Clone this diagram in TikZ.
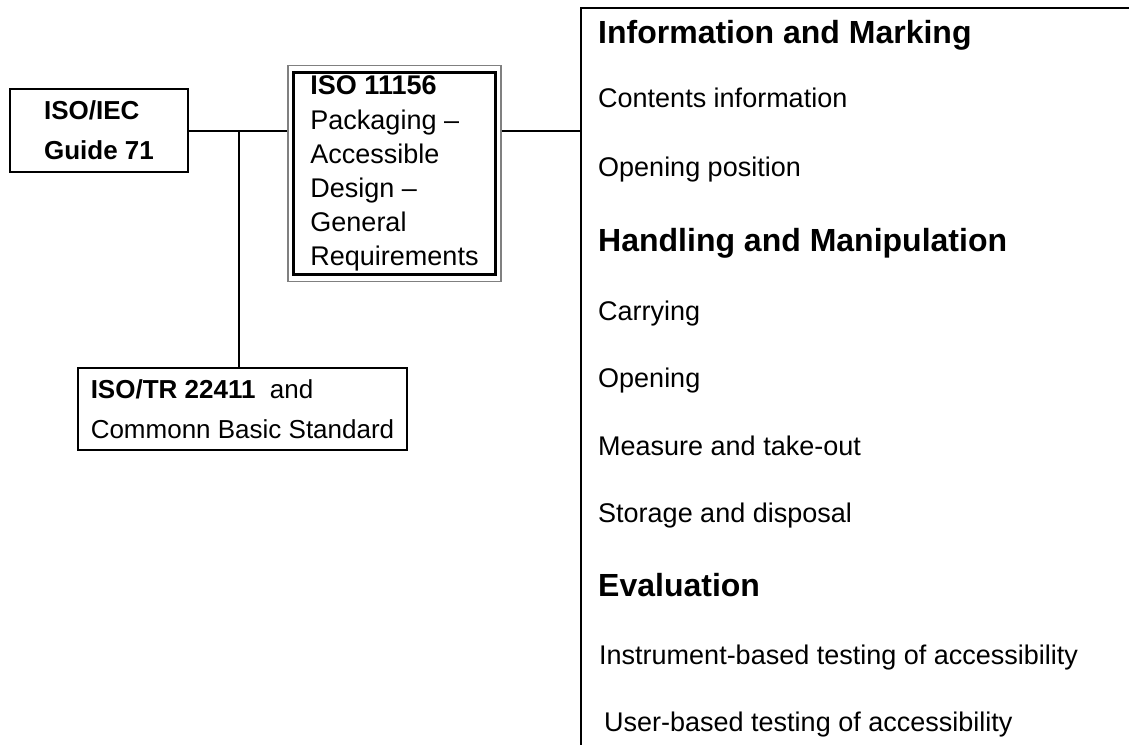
\documentclass[tikz,border=0pt]{standalone}
\usepackage{fontspec}
\setmainfont{Liberation Sans}
\usetikzlibrary{positioning,fit}

\begin{document}
\begin{tikzpicture}[x=1pt,y=-1pt]
        \tikzstyle{stdbox} = [rectangle, draw=black, line width=2pt, align=left, anchor=north west, inner sep=0pt, font=\fontsize{26}{40}\selectfont]
        \tikzstyle{link} = [line width=2pt]
        \tikzstyle{heading} = [anchor=base west, inner sep=0pt, font=\bfseries\fontsize{32}{38}\selectfont]
        \tikzstyle{listitem} = [anchor=base west, inner sep=0pt, font=\fontsize{27}{32}\selectfont]
        \useasboundingbox (0,0) rectangle (1129,745);

        \node (guide) [stdbox, minimum width=178pt, minimum height=83pt] at (9,88) {\textbf{ISO/IEC}\\\textbf{Guide 71}};
        \node (iso) [stdbox, line width=3pt, minimum width=202pt, minimum height=202pt, text depth=5pt, font=\fontsize{27}{34.2}\selectfont] at (292,71) {\textbf{ISO 11156}\\Packaging --\\Accessible\\Design --\\General\\Requirements};
        \node (isoframe) [fit=(iso), draw=gray, line width=1.2pt, inner xsep=4pt, inner ysep=5.5pt] {};
        \node (tr) [stdbox, minimum width=329pt, minimum height=82pt] at (77,367) {\textbf{ISO/TR 22411 } and\\Commonn Basic Standard};

        \coordinate (panel) at (581,8);
        \coordinate (split) at ([xshift=50pt]guide.east);

        \node (info) [heading] at (598,43.5) {Information and Marking};
        \node (contents) [listitem] at (598,107) {Contents information};
        \node (position) [listitem] at (598,176) {Opening position};
        \node (handling) [heading] at (598,251.5) {Handling and Manipulation};
        \node (carrying) [listitem] at (598,320) {Carrying};
        \node (opening) [listitem] at (598,387) {Opening};
        \node (measure) [listitem] at (598,455) {Measure and take-out};
        \node (storage) [listitem] at (598,522) {Storage and disposal};
        \node (evaluation) [heading] at (598,596.5) {Evaluation};
        \node (instrument) [listitem] at (599,664) {Instrument-based testing of accessibility};
        \node (user) [listitem] at (604,731) {User-based testing of accessibility};

        \draw [link] (guide.east) -- (guide.east -| isoframe.west);
        \draw [link] (split) -- (split |- tr.north);
        \draw [link] (isoframe.east |- guide.east) -- (panel |- guide.east);
        \draw [link] (1129,8) -- (panel) -- (581,745);
    \end{tikzpicture}
\end{document}
